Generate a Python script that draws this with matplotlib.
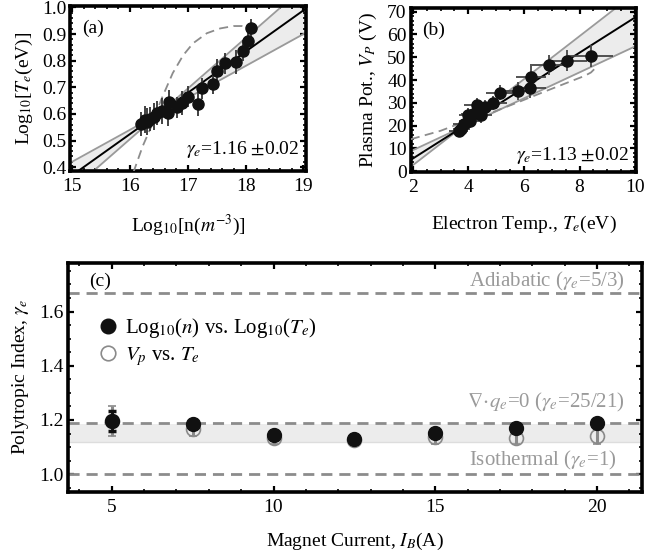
import numpy as np
import matplotlib.pyplot as plt
from matplotlib.ticker import MultipleLocator
from matplotlib.lines import Line2D

plt.rcParams['font.family'] = ['Liberation Serif', 'DejaVu Serif']
plt.rcParams['mathtext.fontset'] = 'stix'

# (a) log density vs log temperature
log_n = [16.20, 16.26, 16.30, 16.35, 16.42, 16.47, 16.55, 16.65, 16.67, 16.81,
         16.90, 17.00, 17.17, 17.25, 17.43, 17.50, 17.65, 17.83, 17.96, 18.04, 18.10]
log_te = [0.563, 0.578, 0.571, 0.580, 0.590, 0.605, 0.611, 0.603, 0.646, 0.625,
          0.640, 0.665, 0.638, 0.696, 0.713, 0.761, 0.790, 0.794, 0.838, 0.875, 0.921]
log_te_err = [0.045, 0.05, 0.05, 0.045, 0.05, 0.045, 0.05, 0.05, 0.045, 0.04, 0.045,
              0.04, 0.045, 0.04, 0.04, 0.045, 0.04, 0.045, 0.04, 0.035, 0.035]
fit_a = (0.155, -1.956)          # slope, intercept
band_a = (16.5, 0.60, 0.12, 0.19)  # pivot x, pivot y, slope low, slope high
dash_a_x = [16.06, 16.22, 16.37, 16.54, 16.74, 16.92, 17.09, 17.33, 17.56, 17.79, 17.94, 18.05, 18.10]
dash_a_y = [0.380, 0.478, 0.553, 0.653, 0.753, 0.820, 0.865, 0.903, 0.921, 0.930, 0.930, 0.925, 0.920]

# (b) plasma potential vs electron temperature
te = [3.65, 3.75, 3.85, 4.00, 4.05, 4.15, 4.30, 4.35, 4.45, 4.60, 4.90, 5.15,
      5.80, 6.20, 6.25, 6.90, 7.55, 8.40]
vp = [17.5, 18.5, 20.5, 24.5, 22.0, 25.0, 29.0, 26.5, 24.5, 28.0, 30.0, 34.5,
      35.0, 36.5, 41.5, 46.5, 48.5, 50.5]
te_err = [0.35, 0.3, 0.4, 0.35, 0.4, 0.4, 0.45, 0.4, 0.4, 0.45, 0.5, 0.5,
          0.55, 0.6, 0.55, 0.7, 0.7, 0.8]
vp_err = [2.5, 3, 3, 3, 3, 3.5, 3, 3.5, 3.5, 3, 3, 3.5, 4, 4.5, 4.5, 4.5, 4.5, 5]
fit_b = (7.75, -10.0)
band_b = (3.76, 19.2, 5.7, 9.45)
dash_b_x = [1.93, 3.0, 3.82, 4.76, 5.70, 6.76, 7.70, 8.18, 8.41, 8.55, 8.60]
dash_b_y = [14.0, 17.7, 21.5, 25.3, 29.8, 35.0, 39.5, 41.8, 43.3, 45.0, 46.5]

# (c) polytropic index vs magnet current
current = [5, 7.5, 10, 12.5, 15, 17.5, 20]
gamma_log = [1.196, 1.184, 1.144, 1.131, 1.152, 1.170, 1.189]
gamma_log_err = [0.037, 0.015, 0.012, 0.010, 0.012, 0.012, 0.012]
gamma_vp = [1.195, 1.165, 1.135, 1.125, 1.138, 1.133, 1.141]
gamma_vp_err = [0.055, 0.025, 0.025, 0.020, 0.025, 0.020, 0.030]
gamma_band = (1.12, 1.186)
ref_lines = [5 / 3, 25 / 21, 1.0]

GREY = '#9a9a9a'
DASH = '#8c8c8c'


def style_axes(ax, xmaj, xmin, ymaj, ymin, size=14):
    for s in ax.spines.values():
        s.set_linewidth(2.6)
    ax.xaxis.set_major_locator(MultipleLocator(xmaj))
    ax.xaxis.set_minor_locator(MultipleLocator(xmin))
    ax.yaxis.set_major_locator(MultipleLocator(ymaj))
    ax.yaxis.set_minor_locator(MultipleLocator(ymin))
    ax.tick_params(which='both', direction='in', top=True, right=True, labelsize=size)
    ax.tick_params(axis='x', pad=5)
    ax.tick_params(axis='y', pad=3)
    ax.tick_params(which='major', length=4, width=1.6)
    ax.tick_params(which='minor', length=2.5, width=1.2)


def band(ax, xlim, pivot_x, pivot_y, s_lo, s_hi):
    x = np.linspace(xlim[0], xlim[1], 200)
    lo = pivot_y + s_lo * (x - pivot_x)
    hi = pivot_y + s_hi * (x - pivot_x)
    ax.fill_between(x, lo, hi, color='#ececec', lw=0, zorder=1)
    ax.plot(x, lo, color=GREY, lw=1.3, zorder=2)
    ax.plot(x, hi, color=GREY, lw=1.3, zorder=2)


fig = plt.figure(figsize=(6.45, 5.52), dpi=100)

# panel (a)
ax1 = fig.add_axes([0.109, 0.690, 0.366, 0.299])
xlim_a = (14.97, 19.05)
band(ax1, xlim_a, *band_a)
xa = np.array(xlim_a)
ax1.plot(xa, fit_a[0] * xa + fit_a[1], color='black', lw=1.4, zorder=3)
ax1.plot(dash_a_x, dash_a_y, color=DASH, lw=1.3, ls=(0, (5, 3)), zorder=3)
ax1.errorbar(log_n, log_te, yerr=log_te_err, fmt='o', color='#111111', ms=8,
             ecolor='#333333', elinewidth=1.3, capsize=0, zorder=4)
ax1.set_xlim(xlim_a)
ax1.set_ylim(0.385, 1.005)
style_axes(ax1, 1, 0.2, 0.1, 0.02)
ax1.set_xlabel(r'Log$_{10}$[n($m^{-3}$)]', fontsize=14, labelpad=13)
ax1.set_ylabel(r'Log$_{10}$[$T_e$(eV)]', fontsize=14, labelpad=5)
ax1.text(0.05, 0.84, '(a)', transform=ax1.transAxes, fontsize=14)
ax1.text(0.97, 0.13, r'$\gamma_e$=1.16 $\pm$0.02', transform=ax1.transAxes,
         fontsize=14, ha='right', va='center')

# panel (b)
ax2 = fig.add_axes([0.637, 0.688, 0.349, 0.297])
xlim_b = (1.93, 10.03)
band(ax2, xlim_b, *band_b)
xb = np.array(xlim_b)
ax2.plot(xb, fit_b[0] * xb + fit_b[1], color='black', lw=1.4, zorder=3)
ax2.plot(dash_b_x, dash_b_y, color=DASH, lw=1.3, ls=(0, (5, 3)), zorder=3)
ax2.errorbar(te, vp, xerr=te_err, yerr=vp_err, fmt='o', color='#111111', ms=8,
             ecolor='#444444', elinewidth=1.3, capsize=0, zorder=4)
ax2.set_xlim(xlim_b)
ax2.set_ylim(-0.5, 71.5)
style_axes(ax2, 2, 0.5, 10, 2)
ax2.set_xlabel(r'Electron Temp., $T_e$(eV)', fontsize=14, labelpad=13)
ax2.set_ylabel(r'Plasma Pot., $V_P$ (V)', fontsize=14, labelpad=6)
ax2.text(0.05, 0.84, '(b)', transform=ax2.transAxes, fontsize=14)
ax2.text(0.97, 0.10, r'$\gamma_e$=1.13 $\pm$0.02', transform=ax2.transAxes,
         fontsize=14, ha='right', va='center')

# panel (c)
ax3 = fig.add_axes([0.105, 0.109, 0.891, 0.415])
ax3.axhspan(gamma_band[0], gamma_band[1], color='#ececec', lw=0, zorder=1)
ax3.axhline(gamma_band[0], color='#dddddd', lw=1, zorder=1)
for g in ref_lines:
    ax3.axhline(g, color=DASH, lw=2, ls=(0, (4, 2.5)), zorder=2)
ax3.errorbar(current, gamma_vp, yerr=gamma_vp_err, fmt='o', ms=10, mfc='none',
             mec='#8a8a8a', mew=1.2, ecolor='#8a8a8a', elinewidth=2.2,
             capsize=3, capthick=3, zorder=3)
ax3.errorbar(current, gamma_log, yerr=gamma_log_err, fmt='o', ms=10, color='#111111',
             ecolor='#111111', elinewidth=2, capsize=3, capthick=2.5, zorder=4)
ax3.set_xlim(3.64, 21.4)
ax3.set_ylim(0.935, 1.78)
style_axes(ax3, 5, 1, 0.2, 0.05, size=14)
ax3.set_xlabel(r'Magnet Current, $I_B$(A)', fontsize=14, labelpad=11)
ax3.set_ylabel(r'Polytropic Index, $\gamma_e$', fontsize=14, labelpad=6)
ax3.text(0.038, 1.71, '(c)', transform=ax3.get_yaxis_transform(), fontsize=14, va='center')
ax3.text(0.969, 1.71, r'Adiabatic ($\gamma_e$=5/3)', transform=ax3.get_yaxis_transform(),
         fontsize=15, color=GREY, ha='right', va='center')
ax3.text(0.969, 1.264, r'$\nabla\!\cdot\! q_e$=0 ($\gamma_e$=25/21)', transform=ax3.get_yaxis_transform(),
         fontsize=15, color=GREY, ha='right', va='center')
ax3.text(0.955, 1.049, r'Isothermal ($\gamma_e$=1)', transform=ax3.get_yaxis_transform(),
         fontsize=15, color=GREY, ha='right', va='center')

handles = [Line2D([], [], ls='none', marker='o', ms=10.5, color='#111111'),
           Line2D([], [], ls='none', marker='o', ms=10.5, mfc='none', mec='#8a8a8a', mew=1.2)]
labels = [r'Log$_{10}$($n$) vs. Log$_{10}$($T_e$)', r'$V_p$ vs. $T_e$']
ax3.legend(handles, labels, loc='upper left', bbox_to_anchor=(0.02, 0.85), frameon=False,
           fontsize=15, handletextpad=0.3, handlelength=1.0, labelspacing=0.25)

fig.savefig('out.png', dpi=100)
